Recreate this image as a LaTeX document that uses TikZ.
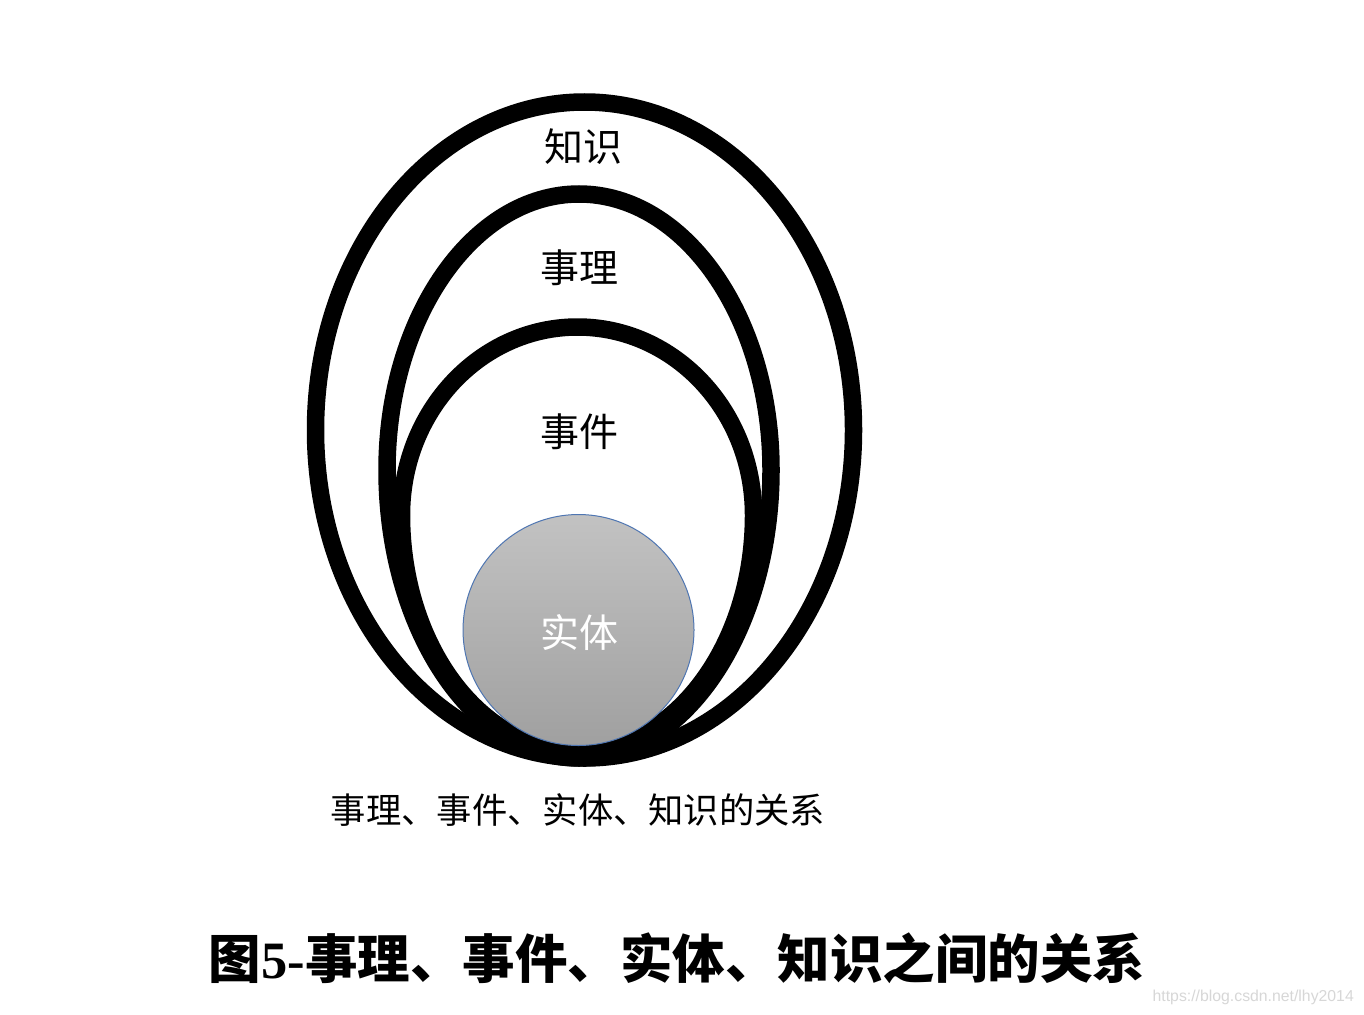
\documentclass[tikz,border=0pt]{standalone}
\usepackage{fontspec}
\newfontfamily\cjk{Noto Sans CJK SC}
\newfontfamily\serifnum{Liberation Serif}
\newfontfamily\wmfont{Liberation Sans}
\definecolor{ringblack}{RGB}{0,0,0}
\definecolor{ballTop}{RGB}{194,194,194}
\definecolor{ballBot}{RGB}{160,160,160}
\definecolor{ballEdge}{RGB}{79,118,178}
\definecolor{wmgray}{RGB}{215,215,215}
\tikzset{
  ring/.style={draw=ringblack, line width=17.5pt},
  lbl/.style={font=\cjk\fontsize{39}{41}\selectfont, inner sep=0pt},
  caption/.style={font=\cjk\fontsize{35.3}{38}\selectfont, inner sep=0pt},
  titlestyle/.style={font=\cjk\bfseries\fontsize{52.5}{56}\selectfont, inner sep=0pt},
}
\begin{document}
\begin{tikzpicture}[x=1pt,y=-1pt]
\useasboundingbox[fill=white] (0,0) rectangle (1364,1014);
% outer ring (knowledge)
\draw[ring] (584.5+269,430) arc[start angle=0,end angle=180,x radius=269,y radius=328]
  arc[start angle=180,end angle=360,x radius=269,y radius=328] -- cycle;
% middle ring (rationale)
\draw[ring] (579+192,470) arc[start angle=0,end angle=180,x radius=192,y radius=288]
  arc[start angle=180,end angle=360,x radius=192,y radius=276] -- cycle;
% inner ring (event)
\draw[ring] (577.5+176,515) arc[start angle=0,end angle=180,x radius=176,y radius=236]
  arc[start angle=180,end angle=360,x radius=176,y radius=188] -- cycle;
% entity ball
\shade[top color=ballTop, bottom color=ballBot] (578.5,630) circle[radius=115.5];
\draw[ballEdge, line width=1pt] (578.5,630) circle[radius=115.5];
% labels
\node[lbl] (zs) at (583,147) {知识};
\node[lbl] (sl) at (579,268) {事理};
\node[lbl] (sj) at (579,432) {事件};
\node[lbl, text=white] (st) at (579,632) {实体};
\node[caption] (cap) at (578,810) {事理、事件、实体、知识的关系};
\node[titlestyle] (ttl) at (677,958) {图{\serifnum\bfseries 5-}事理、事件、实体、知识之间的关系};
\node[font=\wmfont\fontsize{15.8}{17}\selectfont, text=wmgray, anchor=east, inner sep=0pt] (wm) at (1354,997) {https://blog.csdn.net/lhy2014};
\end{tikzpicture}
\end{document}
